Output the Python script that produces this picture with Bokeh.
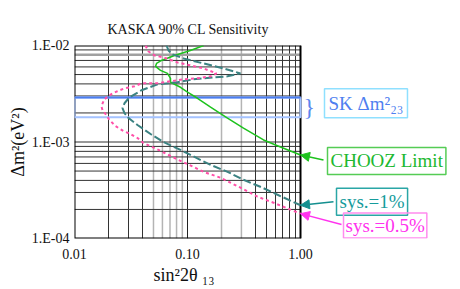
import math
from bokeh.plotting import figure
from bokeh.models import FixedTicker, Label, Arrow, NormalHead, Span, Title
from bokeh.embed import file_html
from bokeh.resources import INLINE

# ---- data -------------------------------------------------------------
x_ticks = [0.01, 0.1, 1.0]
x_tick_labels = ["0.01", "0.10", "1.00"]
y_ticks = [1e-4, 1e-3, 1e-2]
y_tick_labels = ["1.E-04", "1.E-03", "1.E-02"]

x_grid_dark = [0.02, 0.03, 0.04, 0.4, 0.5, 0.6, 0.7, 0.8, 0.9]
x_grid_light = [0.05, 0.06, 0.07, 0.08, 0.09, 0.2, 0.3]
y_grid_dark = [2e-4, 3e-4, 4e-4, 5e-4, 6e-4, 7e-4, 8e-4, 9e-4, 1e-3,
               2e-3, 3e-3, 4e-3, 5e-3, 6e-3, 7e-3, 9e-3]
y_grid_light = [8e-3]

chooz_x = [0.139, 0.106, 0.0767, 0.0589, 0.0532, 0.0521, 0.0577, 0.0665, 0.0707,
           0.0707, 0.0867, 0.100, 0.1226, 0.160, 0.226, 0.313, 0.471, 0.665, 1.0]
chooz_y = [0.0100, 0.00888, 0.00789, 0.00700, 0.00652, 0.00607, 0.00552, 0.00514, 0.00457,
           0.00416, 0.00369, 0.00328, 0.00284, 0.00230, 0.00177, 0.00139, 0.00105, 0.000888, 0.000734]

sys1_x = [0.0652, 0.0679, 0.0737, 0.0922, 0.1386, 0.2083, 0.2944, 0.226, 0.170, 0.113,
          0.0815, 0.0543, 0.0392, 0.0307, 0.0277, 0.0266, 0.0277, 0.0301, 0.0361, 0.0471,
          0.0613, 0.0867, 0.1063, 0.160, 0.226, 0.313, 0.461, 0.626, 1.0]
sys1_y = [0.0100, 0.00888, 0.00808, 0.00734, 0.00652, 0.00579, 0.00514, 0.00479, 0.00468, 0.00446,
          0.00416, 0.00396, 0.00344, 0.00291, 0.00252, 0.00224, 0.00199, 0.00177, 0.00150, 0.00121,
          0.00100, 0.000827, 0.000734, 0.000579, 0.000491, 0.000406, 0.000336, 0.000284, 0.000221]

sys05_x = [0.0425, 0.0452, 0.0511, 0.0613, 0.0815, 0.1063, 0.1386, 0.1806, 0.160, 0.1226,
           0.0922, 0.0707, 0.0543, 0.0392, 0.0340, 0.0277, 0.0240, 0.0212, 0.0184, 0.0173,
           0.0177, 0.0188, 0.0204, 0.0231, 0.0271, 0.0313, 0.0361, 0.0408, 0.0554, 0.0707,
           0.0903, 0.113, 0.1386, 0.196, 0.2944, 0.4165, 0.577, 0.815, 1.0]
sys05_y = [0.0100, 0.00867, 0.00789, 0.00752, 0.00668, 0.00622, 0.00579, 0.00514, 0.00479, 0.00457,
           0.00446, 0.00426, 0.00406, 0.00406, 0.00378, 0.00360, 0.00336, 0.00313, 0.00278, 0.00235,
           0.00214, 0.00195, 0.00169, 0.00146, 0.00130, 0.00121, 0.00110, 0.000977, 0.000827, 0.000717,
           0.000622, 0.000552, 0.000491, 0.000426, 0.000336, 0.000271, 0.000235, 0.000199, 0.000181]

sk_low = 1.8e-3
sk_high = 2.9e-3

FONT = "Liberation Serif"

# ---- layout: the frame is widened to the right so that the side notes
#      (which Bokeh clips to the frame) can live inside it ---------------
FL, FT, FH = 74, 45, 194       # frame left / top / height in page pixels
DEC_X, DEC_Y = 113, 97         # pixels per decade
FR = 456                       # frame right edge (page px)

def dx(px):
    return 10 ** (math.log10(x_ticks[0]) + (px - FL) / DEC_X)

def dy(py):
    return 10 ** (math.log10(y_ticks[-1]) - (py - FT) / DEC_Y)

p = figure(width=460, height=289, x_axis_type="log", y_axis_type="log",
           x_range=(x_ticks[0], dx(FR)), y_range=(y_ticks[0], y_ticks[-1]),
           output_backend="svg", toolbar_location=None,
           title="KASKA 90% CL Sensitivity",
           min_border_left=FL, min_border_right=460 - FR,
           min_border_top=FT, min_border_bottom=289 - FT - FH)
p.title.align = "left"
p.title.offset = 33
p.title.standoff = 18
p.title.text_font = FONT
p.title.text_font_size = "14px"
p.title.text_font_style = "normal"
p.title.text_color = "#111111"
p.background_fill_color = "white"
p.border_fill_color = "white"
p.outline_line_color = None

for ax, ticks, labels in ((p.xaxis[0], x_ticks, x_tick_labels), (p.yaxis[0], y_ticks, y_tick_labels)):
    ax.ticker = FixedTicker(ticks=ticks, minor_ticks=[])
    ax.major_label_overrides = {t: l for t, l in zip(ticks, labels)}
    ax.axis_line_color = None
    ax.major_tick_line_color = None
    ax.minor_tick_line_color = None
    ax.major_tick_out = 0
    ax.major_tick_in = 0
    ax.minor_tick_out = 0
    ax.major_label_text_font = FONT
    ax.major_label_text_font_size = "14px"
    ax.major_label_text_color = "#111111"
    ax.axis_label_text_font = FONT
    ax.axis_label_text_font_style = "normal"
    ax.axis_label_text_color = "#111111"
    ax.axis_label_text_font_size = "18px"
p.yaxis[0].major_label_standoff = 5
p.xaxis[0].major_label_standoff = 10
p.yaxis[0].axis_label = "Δm²(eV²)"
p.yaxis[0].axis_label_standoff = 1

# x-axis title, aligned under the plot box rather than the widened frame
xt = Title(text="sin²2θ ₁₃", align="left", offset=79, standoff=6, vertical_align="top",
           text_font=FONT, text_font_size="18px", text_font_style="normal", text_color="#111111")
p.add_layout(xt, "below")

# vertical grid lines (bokeh grid), horizontal ones drawn only across the plot box
p.xgrid[0].ticker = FixedTicker(ticks=x_ticks, minor_ticks=x_grid_dark)
p.xgrid[0].grid_line_color = "#222222"
p.xgrid[0].minor_grid_line_color = "#333333"
p.ygrid[0].visible = False
for v in x_grid_light:
    p.add_layout(Span(location=v, dimension="height", line_color="#b4b4b4", line_width=1.5, level="underlay"))

p.segment(x0=[x_ticks[0]] * len(y_grid_dark), x1=[x_ticks[-1]] * len(y_grid_dark),
          y0=y_grid_dark, y1=y_grid_dark, line_color="#333333", line_width=1)
p.segment(x0=[x_ticks[0]] * len(y_grid_light), x1=[x_ticks[-1]] * len(y_grid_light),
          y0=y_grid_light, y1=y_grid_light, line_color="#a0a0a0", line_width=2.5)

# plot box
p.quad(left=[x_ticks[0]], right=[x_ticks[-1]], bottom=[y_ticks[0]], top=[y_ticks[-1]],
       fill_color=None, line_color="black", line_width=2)

# SK band
p.quad(left=[x_ticks[0]], right=[x_ticks[-1]], bottom=[sk_low], top=[sk_high],
       fill_color=None, line_color="#a4c2ff", line_width=2)
p.segment(x0=[x_ticks[0]], x1=[x_ticks[-1]], y0=[sk_high], y1=[sk_high], line_color="#4c7ef0", line_width=2)

# curves
p.line(chooz_x, chooz_y, line_color="#1ec21e", line_width=1.5)
p.line(sys1_x, sys1_y, line_color="#3b8282", line_width=2, line_dash="8 3")
p.line(sys05_x, sys05_y, line_color="#ff4fa8", line_width=2, line_dash="3 3")

# ---- side notes ---------------------------------------------------------
def lab(text, px, py, size, color, **kw):
    l = Label(x=dx(px), y=dy(py), text=text, text_font=FONT, text_font_size=size,
              text_color=color, text_baseline="middle", **kw)
    p.add_layout(l)
    return l

lab("}", 303, 107, "24px", "#5b86ee")
lab("SK Δm²₂₃", 324, 103, "19px", "#4f7ff0",
    border_line_color="#8fe0ff", border_line_width=1.5, padding=4)
lab("CHOOZ Limit", 327, 161, "19px", "#20b830",
    border_line_color="#55cc55", border_line_width=1.5, padding=3)
lab("sys.=1%", 336, 202, "19px", "#169c9c",
    border_line_color="#2aa6a6", border_line_width=1.5, padding=3)
lab("sys.=0.5%", 343, 226, "19px", "#ff33ee",
    border_line_color="#ff8cee", border_line_width=1.5, padding=2)

for spx, spy, ex, ey, col in ((323, 160, chooz_x[-1], chooz_y[-1], "#1ec21e"),
                              (333, 202, sys1_x[-1], sys1_y[-1], "#138f8f"),
                              (341, 225, sys05_x[-1], sys05_y[-1], "#ff33ee")):
    p.add_layout(Arrow(x_start=dx(spx), y_start=dy(spy), x_end=ex, y_end=ey,
                       line_color=col, line_width=1.5,
                       end=NormalHead(size=9, fill_color=col, line_color=col)))

open("out.html", "w").write(file_html(p, INLINE))
